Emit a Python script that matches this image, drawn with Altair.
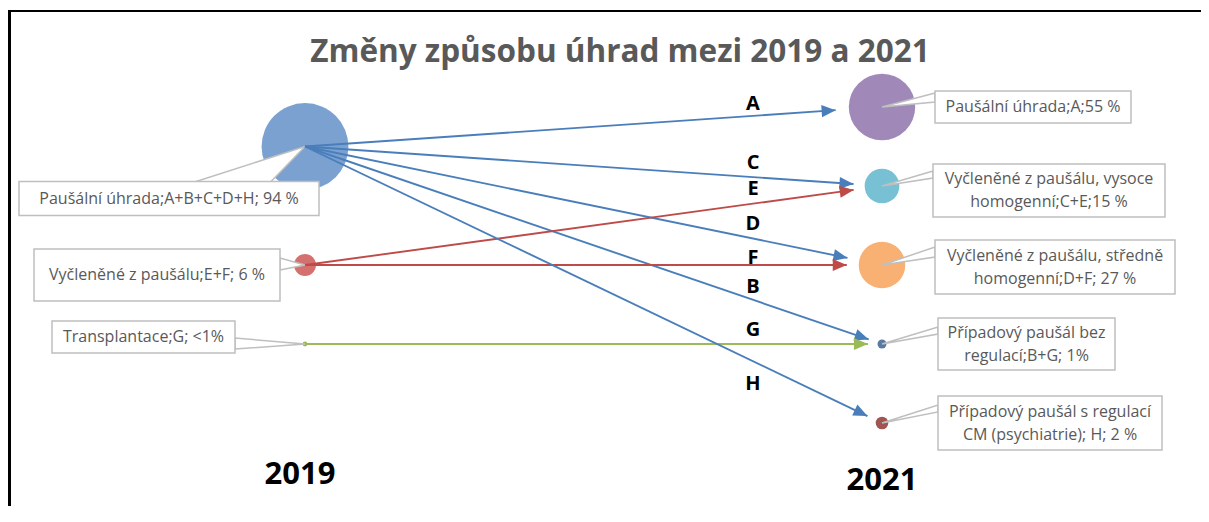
import math
import altair as alt
import pandas as pd

# ---------------- data ----------------
title_text = "Změny způsobu úhrad mezi 2019 a 2021"

bubble_year = [2019, 2019, 2019, 2021, 2021, 2021, 2021, 2021]
bubble_level = [4.5, 3.0, 2.0, 5.0, 4.0, 3.0, 2.0, 1.0]
bubble_share = [94, 6, 0.3, 55, 15, 27, 1, 2]
bubble_label = [
    ["Paušální úhrada;A+B+C+D+H; 94 %"],
    ["Vyčleněné z paušálu;E+F; 6 %"],
    ["Transplantace;G; <1%"],
    ["Paušální úhrada;A;55 %"],
    ["Vyčleněné z paušálu, vysoce", "homogenní;C+E;15 %"],
    ["Vyčleněné z paušálu, středně", "homogenní;D+F; 27 %"],
    ["Případový paušál bez", "regulací;B+G; 1%"],
    ["Případový paušál s regulací", "CM (psychiatrie); H; 2 %"],
]
bubble_color = ["#7BA1D0", "#D4716E", "#9BBB59", "#A089B9",
                "#78C0D4", "#F8B073", "#5A7AA0", "#A05552"]

flow_letter = ["A", "B", "C", "D", "E", "F", "G", "H"]
flow_from = [0, 0, 0, 0, 1, 1, 2, 0]
flow_to = [3, 6, 4, 5, 4, 5, 6, 7]
flow_color = ["#4A7EBB", "#4A7EBB", "#4A7EBB", "#4A7EBB",
              "#BE4B48", "#BE4B48", "#9BBB59", "#4A7EBB"]

years = [2019, 2021]

# ---------------- layout (pixels) ----------------
W, H = 1193, 498
PX_X = 288.5      # px per year
PX_Y = 79.0       # px per level
X0_PX = 297.0     # chart px of year 2019
Y5_PX = 99.0      # chart px of level 5
R_MAX = 49.0      # radius of the 94 % bubble
SHARE_MAX = 94.0
GAP = 9.0
LETTER_X_PX = 745.0
letter_dy = [-12, -13, -14, -15, -15, -7, -14, 23]
year_label_px = [467, 473]
year_label_dx = [-5, 0]
LINE_H = 23

# callout boxes relative to bubble centre: (x1, x2, y1, y2)
box_off = [(-286, 14, 35, 69), (-271, -25, -16, 36), (-253, -70, -23, 9),
           (53, 249, -16, 16), (51, 283, -22, 31), (53, 293, -25, 29),
           (56, 233, -26, 26), (56, 280, -27, 27)]
# pointer base segment relative to bubble centre: (x_a, y_a, x_b, y_b)
ptr_base = [(-112, 36, -35, 36), (-25, -7, -25, 5), (-70, -6, -70, 5),
            (53, -14, 53, -5), (51, -15, 51, -8), (53, -18, 53, -8),
            (56, -17, 56, -10), (56, -18, 56, -11)]

x_min = 2019 - X0_PX / PX_X
x_max = x_min + W / PX_X
y_max = 5 + Y5_PX / PX_Y
y_min = y_max - H / PX_Y


def px(x):
    return (x - x_min) * PX_X


def py(y):
    return (y_max - y) * PX_Y


def ux(p):
    return x_min + p / PX_X


def uy(p):
    return y_max - p / PX_Y


def tri_area_rows(pts, idx):
    """Vertical cross-sections of a triangle at its vertex x positions."""
    rows = []
    xs_ = sorted(set(round(p[0], 6) for p in pts))
    edges = [(pts[0], pts[1]), (pts[1], pts[2]), (pts[2], pts[0])]
    for x in xs_:
        ys_ = []
        for (a, b) in edges:
            if abs(a[0] - b[0]) < 1e-9:
                if abs(a[0] - x) < 1e-6:
                    ys_ += [a[1], b[1]]
            elif min(a[0], b[0]) - 1e-6 <= x <= max(a[0], b[0]) + 1e-6:
                t = (x - a[0]) / (b[0] - a[0])
                ys_.append(a[1] + t * (b[1] - a[1]))
        rows.append({"pid": "p%d" % idx, "px": ux(x),
                     "plo": uy(max(ys_)), "phi": uy(min(ys_))})
    return rows


radius = [R_MAX * math.sqrt(s / SHARE_MAX) for s in bubble_share]

bubbles = pd.DataFrame({
    "year": bubble_year, "level": bubble_level, "share": bubble_share,
    "color": bubble_color,
})

box_rows, txt_rows, ptr_rows = [], [], []
for i in range(len(bubble_year)):
    cx, cy = px(bubble_year[i]), py(bubble_level[i])
    x1, x2, y1, y2 = box_off[i]
    box_rows.append({"x": ux(cx + x1), "x2": ux(cx + x2),
                     "y": uy(cy + y1), "y2": uy(cy + y2)})
    n = len(bubble_label[i])
    txt_rows.append({"x": ux(cx + (x1 + x2) / 2),
                     "y": uy(cy + (y1 + y2) / 2 - (n - 1) * LINE_H / 2),
                     "t": bubble_label[i]})
    xa, ya, xb, yb = ptr_base[i]
    ptr_rows += tri_area_rows([(cx + xa, cy + ya), (cx + xb, cy + yb), (cx, cy)], i)
boxes = pd.DataFrame(box_rows)
texts = pd.DataFrame(txt_rows)
ptrs = pd.DataFrame(ptr_rows)

flow_rows, letter_rows = [], []
for k in range(len(flow_letter)):
    s, t = flow_from[k], flow_to[k]
    sx, sy = px(bubble_year[s]), py(bubble_level[s])
    tx, ty = px(bubble_year[t]), py(bubble_level[t])
    L = math.hypot(tx - sx, ty - sy)
    dxu, dyu = (tx - sx) / L, (ty - sy) / L
    d = radius[t] + GAP
    hx, hy = tx - d * dxu, ty - d * dyu
    ang = math.degrees(math.atan2(hy - sy, hx - sx)) % 360
    flow_rows.append({"x": bubble_year[s], "y": bubble_level[s],
                      "x2": ux(hx), "y2": uy(hy), "ang": ang,
                      "color": flow_color[k]})
    f = (LETTER_X_PX - sx) / (hx - sx)
    ly = sy + f * (hy - sy) + letter_dy[k]
    letter_rows.append({"x": ux(LETTER_X_PX), "y": uy(ly), "t": flow_letter[k]})
flows = pd.DataFrame(flow_rows)
letters = pd.DataFrame(letter_rows)

year_df = pd.DataFrame({"x": [y + d / PX_X for y, d in zip(years, year_label_dx)],
                        "y": [uy(p) for p in year_label_px],
                        "t": [str(y) for y in years]})
title_df = pd.DataFrame({"t": [title_text]})

xs = alt.Scale(domain=[x_min, x_max], nice=False, zero=False)
ys = alt.Scale(domain=[y_min, y_max], nice=False, zero=False)


def X(f):
    return alt.X(f, type="quantitative", scale=xs, axis=None)


def Y(f):
    return alt.Y(f, type="quantitative", scale=ys, axis=None)


FONT = "Open Sans"
GRAY = "#595959"
BOX_GRAY = "#BFBFBF"

bubble_layer = alt.Chart(bubbles).mark_circle(opacity=1).encode(
    x=X("year"), y=Y("level"),
    size=alt.Size("share:Q", scale=alt.Scale(domain=[0, SHARE_MAX],
                                               range=[0, math.pi * R_MAX ** 2]),
                  legend=None),
    color=alt.Color("color:N", scale=None),
)

ptr_layer = alt.Chart(ptrs).mark_area(
    color="white", stroke=BOX_GRAY, strokeWidth=1.5).encode(
    x=X("px"), y=Y("plo"), y2="phi", detail="pid:N")

box_layer = alt.Chart(boxes).mark_rect(fill="white", stroke=BOX_GRAY,
                                       strokeWidth=1.5).encode(
    x=X("x"), x2="x2", y=Y("y"), y2="y2")

text_layer = alt.Chart(texts).mark_text(font=FONT, fontSize=16, color=GRAY,
                                        align="center", baseline="middle",
                                        lineHeight=LINE_H).encode(
    x=X("x"), y=Y("y"), text="t")

line_layer = alt.Chart(flows).mark_rule(strokeWidth=1.9).encode(
    x=X("x"), y=Y("y"), x2="x2", y2="y2",
    color=alt.Color("color:N", scale=None))

head_layer = alt.Chart(flows).mark_point(
    shape="M0,0L-2,-0.86L-2,0.86Z", filled=True, opacity=1, size=196,
    strokeWidth=0).encode(
    x=X("x2"), y=Y("y2"), angle=alt.Angle("ang:Q", scale=None),
    color=alt.Color("color:N", scale=None))

letter_layer = alt.Chart(letters).mark_text(
    font=FONT, fontSize=20, fontWeight="bold", color="black",
    align="center", baseline="middle").encode(x=X("x"), y=Y("y"), text="t")

year_layer = alt.Chart(year_df).mark_text(
    font=FONT, fontSize=31, fontWeight="bold", color="black",
    align="center", baseline="middle").encode(x=X("x"), y=Y("y"), text="t")

title_layer = alt.Chart(title_df).mark_text(
    font=FONT, fontSize=31.5, fontWeight="bold", color=GRAY,
    align="center", baseline="middle").encode(
    x=alt.value(612), y=alt.value(45), text="t")

frame_top = alt.Chart(title_df).mark_rule(color="black", strokeWidth=2).encode(
    x=alt.value(0.5), x2=alt.value(W), y=alt.value(3), y2=alt.value(3))
frame_left = alt.Chart(title_df).mark_rule(color="black", strokeWidth=3).encode(
    x=alt.value(1.5), x2=alt.value(1.5), y=alt.value(2), y2=alt.value(H))

chart = alt.layer(
    bubble_layer, ptr_layer, box_layer, text_layer,
    line_layer, head_layer, letter_layer, year_layer, title_layer,
    frame_top, frame_left,
).properties(
    width=W, height=H, padding=0,
    autosize=alt.AutoSizeParams(type="none"),
    background="white",
).configure_view(stroke=None)

chart.save("out.html", embed_options={"renderer": "svg", "actions": False})
